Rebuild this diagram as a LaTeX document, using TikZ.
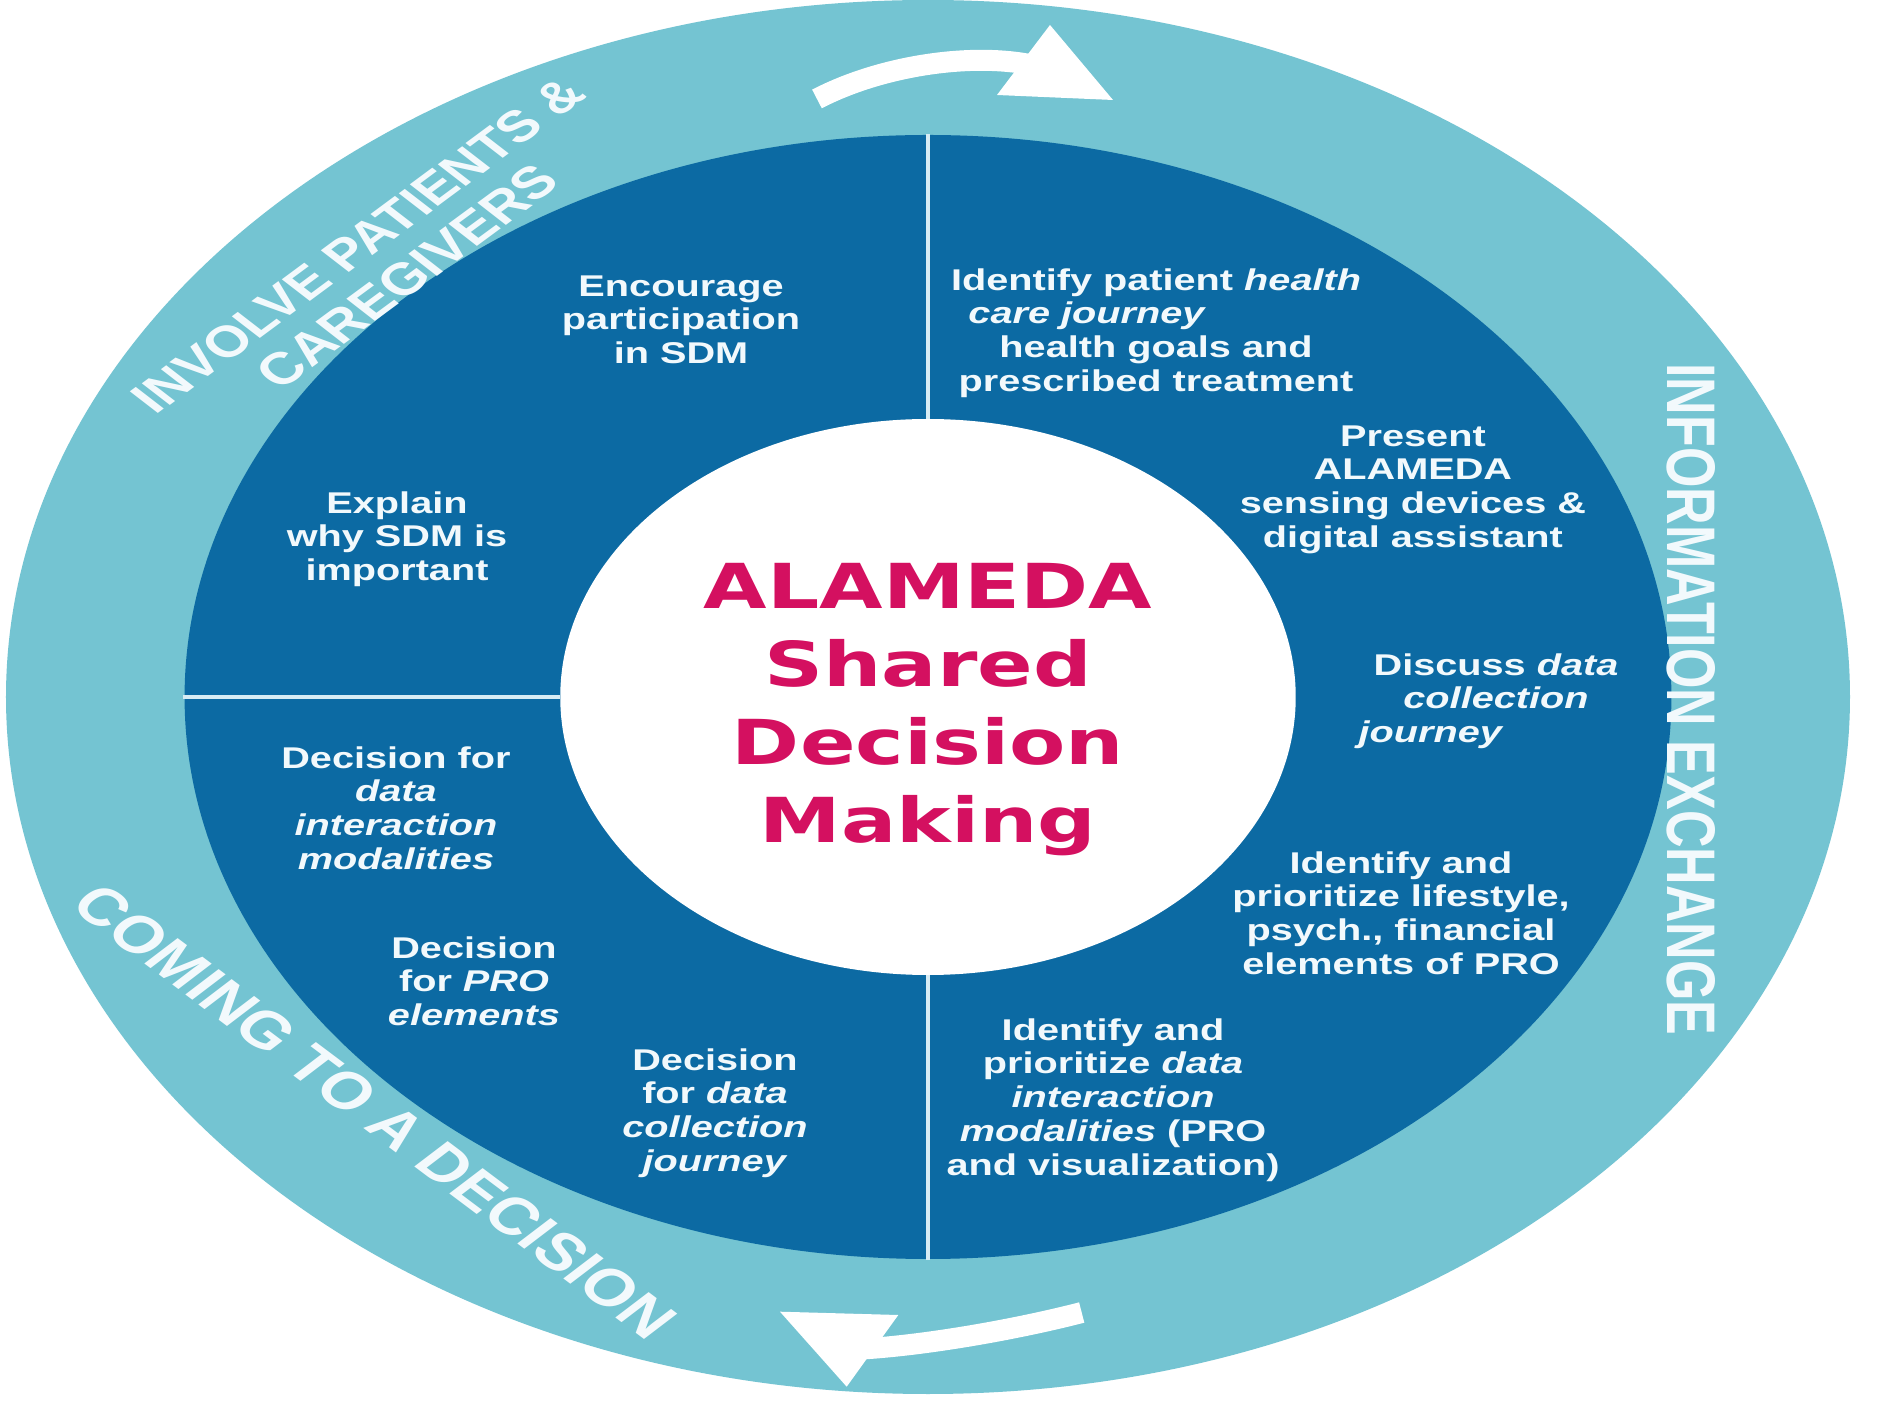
\documentclass[tikz,border=0pt]{standalone}
\usepackage{fontspec}
\setmainfont{Liberation Sans}
\newfontfamily\titlefont{DejaVu Sans}
\definecolor{ringblue}{RGB}{116,196,210}
\definecolor{darkblue}{RGB}{12,106,163}
\definecolor{titlered}{RGB}{212,16,96}
\definecolor{divider}{RGB}{215,236,244}
\definecolor{txtwhite}{RGB}{242,249,252}
\tikzset{
  body/.style={text=txtwhite, font=\bfseries\fontsize{15}{16.9}\selectfont, align=center, anchor=north, inner sep=0pt, transform shape},
  ringtxt/.style={text=txtwhite, inner sep=0pt, anchor=center, transform shape},
  titletxt/.style={text=titlered, font=\titlefont\bfseries\fontsize{31}{39}\selectfont, align=center, anchor=north, inner sep=0pt, transform shape},
  divline/.style={draw=divider, line width=1.6pt},
  arrowbody/.style={draw=white, line width=10.5pt},
  arrowhead/.style={fill=white}
}
\begin{document}
\begin{tikzpicture}[x=0.5pt,y=0.5pt]
\useasboundingbox (-928,-714) rectangle (955,697);
\fill[white] (-928,-714) rectangle (955,697);
\begin{scope}[xscale=1.3228]
  % rings
  \fill[ringblue] (0,0) circle[radius=697];
  \fill[darkblue] (0,0) circle[radius=562];
  \fill[white] (0,0) circle[radius=278];
  % divider end points
  \coordinate (vt1) at (0,278);
  \coordinate (vt2) at (0,563);
  \coordinate (vb1) at (0,-278);
  \coordinate (vb2) at (0,-563);
  \coordinate (hl1) at (-278,0);
  \coordinate (hl2) at (-563,0);
  \draw[divline] (vt1) -- (vt2);
  \draw[divline] (vb1) -- (vb2);
  \draw[divline] (hl1) -- (hl2);
  % title
  \node[titletxt] (title) at (0,134) {ALAMEDA\\Shared\\Decision\\Making};
  % text blocks
  \node[body] (encourage) at (-186.7,422) {Encourage\\participation\\in SDM};
  \node[body] (explain) at (-401.4,206) {Explain\\why SDM is\\important};
  \node[body] (decmod) at (-402.2,-49) {Decision for\\\textit{data}\\\textit{interaction}\\\textit{modalities}};
  \node[body] (decpro) at (-343.2,-239) {Decision\\for \textit{PRO}\\\textit{elements}};
  \node[body] (decjour) at (-161.0,-351) {Decision\\for \textit{data}\\\textit{collection}\\\textit{journey}};
  \node[body] (identpat) at (172.4,429) {Identify patient \textit{health}\\\textit{care journey}\rule{52pt}{0pt}\\health goals and\\prescribed treatment};
  \node[body] (present) at (366.6,272) {Present\\ALAMEDA\\sensing devices \&\\digital assistant};
  \node[body] (discuss) at (429.4,44) {Discuss \textit{data}\\\textit{collection}\\\textit{journey}\rule{49pt}{0pt}};
  \node[body] (lifestyle) at (357.6,-154) {Identify and\\prioritize lifestyle,\\psych., financial\\elements of PRO};
  \node[body] (modal) at (139.9,-321) {Identify and\\prioritize \textit{data}\\\textit{interaction}\\\textit{modalities} (PRO\\and visualization)};
  % ring texts
  \node[ringtxt, font=\bfseries\fontsize{22}{26}\selectfont, rotate=44.4] (involve) at (-430.9,452) {INVOLVE PATIENTS \&};
  \node[ringtxt, font=\bfseries\fontsize{22.5}{26}\selectfont, rotate=44.2] (caregivers) at (-393.8,420.5) {CAREGIVERS};
  \node[ringtxt, font=\bfseries\fontsize{26}{30}\selectfont, rotate=-44.8] (coming) at (-418.3,-414.5) {COMING TO A DECISION};
  \node[ringtxt, font=\bfseries\fontsize{26}{30}\selectfont, rotate=-90] (info) at (577.3,-2.5) {INFORMATION EXCHANGE};
\end{scope}
% top arrow (image coordinates, unstretched)
\coordinate (ta0) at (-111,598);
\coordinate (ta1) at (104,632);
\coordinate (th1) at (69,602);
\coordinate (th2) at (122,672);
\coordinate (th3) at (185,597);
\draw[arrowbody] (ta0) .. controls (-50,630) and (40,645) .. (ta1);
\fill[arrowhead] (th1) -- (th2) -- (th3) -- cycle;
% bottom arrow
\coordinate (ba0) at (153.7,-615.5);
\coordinate (ba1) at (-66,-652);
\coordinate (bh1) at (-29.7,-618);
\coordinate (bh2) at (-81.3,-689.7);
\coordinate (bh3) at (-148,-614.7);
\draw[arrowbody] (ba0) .. controls (90,-632) and (0,-648) .. (ba1);
\fill[arrowhead] (bh1) -- (bh2) -- (bh3) -- cycle;
\end{tikzpicture}
\end{document}
